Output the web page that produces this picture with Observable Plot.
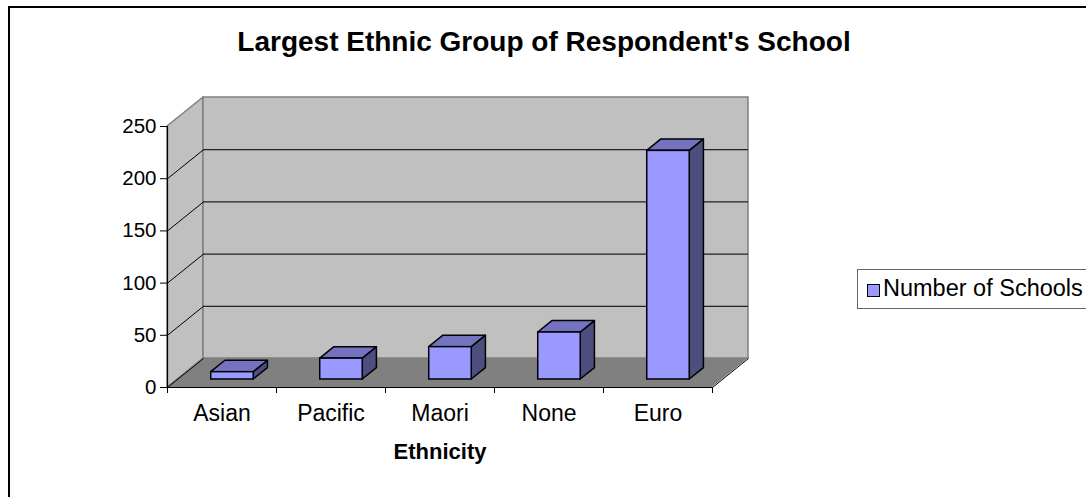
<!DOCTYPE html>
<html><head><meta charset="utf-8">
<script src="https://cdn.jsdelivr.net/npm/d3@7"></script>
<script src="https://cdn.jsdelivr.net/npm/@observablehq/plot@0.6"></script>
<style>
html,body{margin:0;padding:0;background:#fff;overflow:hidden;}
#wrap{position:relative;width:1086px;height:497px;overflow:hidden;font-family:"Liberation Sans",Arial,sans-serif;background:#fff;}
#chart{position:absolute;left:0;top:0;}
#frame{position:absolute;left:8px;top:6px;width:1200px;height:600px;border:2px solid #000;pointer-events:none;}
#title{position:absolute;left:0;top:28px;width:1088px;text-align:center;font-weight:bold;font-size:28px;line-height:28px;color:#000;}
#legend{position:absolute;left:857px;top:269px;width:240px;height:38px;border:1px solid #666;background:#fff;}
#legend .sw{position:absolute;left:9px;top:14px;width:11px;height:11px;border:1px solid #000;}
#legend .lb{position:absolute;left:25px;top:6px;font-size:23.5px;line-height:24px;white-space:nowrap;color:#000;}
</style>
</head><body>
<div id="wrap">
  <div id="chart"></div>
  <div id="title"></div>
  <div id="legend"><div class="sw"></div><div class="lb"></div></div>
  <div id="frame"></div>
</div>
<script>
// ---- data ----
const titleText = "Largest Ethnic Group of Respondent's School";
const xLabel = "Ethnicity";
const seriesName = "Number of Schools";
const categories = ["Asian", "Pacific", "Maori", "None", "Euro"];
const schools = [7, 20, 31, 45, 219];
const yTicks = [0, 50, 100, 150, 200, 250];

// ---- 3D projection settings (data units) ----
const n = categories.length;
const yMax = 250;
const DX = 36 / 109;   // wall depth along x
const DY = 27.8;       // wall depth along y
const zf = 0.276, zb = 0.67;   // bar front/back depth fractions
const b0 = 0.31, b1 = 0.70;    // bar extent within category
const barFront = "#9999FF", barTop = "#7373BF", barSide = "#4D4D80";

const bars = categories.map((c, i) => ({c, i, v: schools[i]}));
const sideFaces = bars.flatMap(d => [
  {c: d.c, x: d.i + b1 + zf * DX, y1: zf * DY, y2: d.v + zf * DY},
  {c: d.c, x: d.i + b1 + zb * DX, y1: zb * DY, y2: d.v + zb * DY}
]);
const topFaces = bars.flatMap(d => [
  {c: d.c, y: d.v + zf * DY, x1: d.i + b0 + zf * DX, x2: d.i + b1 + zf * DX},
  {c: d.c, y: d.v + zb * DY, x1: d.i + b0 + zb * DX, x2: d.i + b1 + zb * DX}
]);
const frontFaces = bars.map(d => ({c: d.c, x1: d.i + b0 + zf * DX, x2: d.i + b1 + zf * DX, y1: zf * DY, y2: d.v + zf * DY}));

const chart = Plot.plot({
  width: 1086, height: 497,
  marginLeft: 167, marginRight: 338, marginTop: 97, marginBottom: 110,
  x: {type: "linear", domain: [0, n + DX]},
  y: {type: "linear", domain: [0, yMax + DY]},
  style: {fontFamily: "'Liberation Sans', Arial, sans-serif", fontSize: "20px", background: "transparent", color: "#000", overflow: "visible"},
  marks: [
    // left wall
    Plot.areaY([{x: 0, y1: 0, y2: yMax}, {x: DX, y1: DY, y2: yMax + DY}], {x: "x", y1: "y1", y2: "y2", fill: "#C0C0C0", stroke: "#808080", strokeWidth: 1.5}),
    // back wall
    Plot.rect([0], {x1: DX, x2: n + DX, y1: DY, y2: yMax + DY, fill: "#C0C0C0", stroke: "#808080", strokeWidth: 1.5}),
    // floor
    Plot.areaX([{y: 0, x1: 0, x2: n}, {y: DY, x1: DX, x2: n + DX}], {y: "y", x1: "x1", x2: "x2", fill: "#808080"}),
    // back wall gridlines
    Plot.ruleY(yTicks.filter(t => t > 0 && t < yMax), {y: d => d + DY, x1: DX, x2: n + DX, stroke: "#222", strokeWidth: 1.2}),
    // left wall gridlines
    Plot.link(yTicks.filter(t => t < yMax), {x1: 0, y1: d => d, x2: DX, y2: d => d + DY, stroke: "#000", strokeWidth: 1}),
    // floor right edge
    Plot.link([0], {x1: n, y1: 0, x2: n + DX, y2: DY, stroke: "#000", strokeWidth: 1}),
    // bars
    Plot.areaY(sideFaces, {x: "x", y1: "y1", y2: "y2", z: "c", fill: barSide, stroke: "#000", strokeWidth: 1.5, strokeLinejoin: "round"}),
    Plot.areaX(topFaces, {y: "y", x1: "x1", x2: "x2", z: "c", fill: barTop, stroke: "#000", strokeWidth: 1.5, strokeLinejoin: "round"}),
    Plot.rect(frontFaces, {x1: "x1", x2: "x2", y1: "y1", y2: "y2", fill: barFront, stroke: "#000", strokeWidth: 1.5}),
    // axis lines
    Plot.ruleX([0], {y1: 0, y2: yMax, stroke: "#000", strokeWidth: 1.2}),
    Plot.ruleY([0], {x1: 0, x2: n, stroke: "#000", strokeWidth: 1.2}),
    // y axis
    Plot.axisY(yTicks, {anchor: "left", tickSize: 7, tickPadding: 4, fontSize: 20.5, label: null, stroke: "#000"}),
    // x axis ticks at category boundaries
    Plot.axisX(d3.range(0, n + 1), {anchor: "bottom", tickSize: 6, tickFormat: () => "", label: null}),
    // category labels
    Plot.axisX(categories.map((c, i) => i + 0.5), {anchor: "bottom", tickSize: 0, tickPadding: 17, fontSize: 23, tickFormat: d => categories[Math.floor(d)], label: null}),
    // x axis title
    Plot.text([xLabel], {x: n / 2, frameAnchor: "bottom", dy: 71, text: d => d, fontWeight: "bold", fontSize: 22, fill: "#000"})
  ]
});
document.getElementById("chart").appendChild(chart);
document.getElementById("title").textContent = titleText;
document.querySelector("#legend .sw").style.background = barFront;
document.querySelector("#legend .lb").textContent = seriesName;
</script>
</body></html>
